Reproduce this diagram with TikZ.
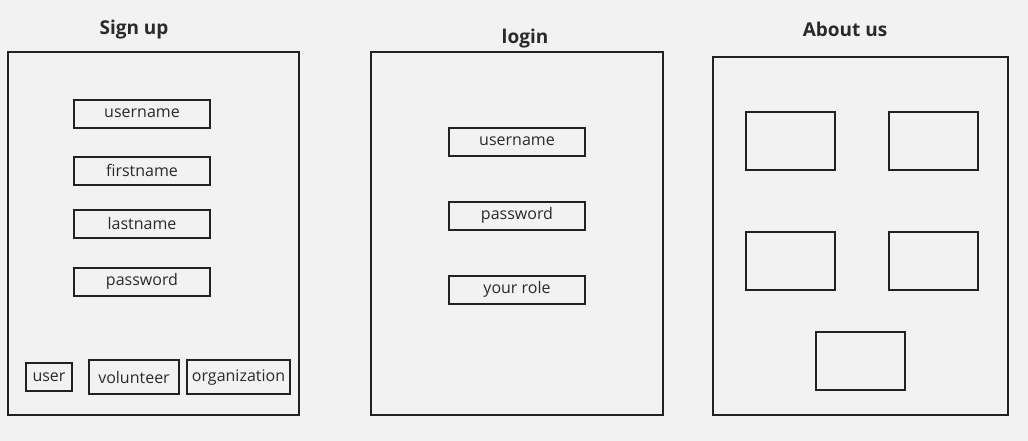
\documentclass[tikz,border=0pt]{standalone}
\usepackage{fontspec}
\setmainfont{Open Sans}
\definecolor{bg}{HTML}{F2F2F2}
\definecolor{ink}{HTML}{222222}
\definecolor{txt}{HTML}{2A2A2A}
\begin{document}
\begin{tikzpicture}[x=1pt,y=-1pt,
  frame/.style={draw=ink,line width=2pt,inner sep=0pt,anchor=north west},
  field/.style={draw=ink,line width=2pt,inner sep=0pt},
  label/.style={text=txt,font=\fontsize{16}{19}\selectfont,inner sep=0pt},
  tile/.style={draw=ink,line width=2pt,inner sep=0pt,minimum width=89pt,minimum height=58pt,anchor=north west},
  title/.style={text=txt,font=\bfseries\fontsize{19}{23}\selectfont,inner sep=0pt}]
\fill[bg] (0,0) rectangle (1028,441);
\useasboundingbox (0,0) rectangle (1028,441);
% titles
\node[title] (t1) at (134,29.5) {Sign up};
\node[title] (t2) at (525,38.5) {login};
\node[title] (t3) at (845,29.5) {About us};
% frames
\node[frame,minimum width=291pt,minimum height=363pt] (f1) at (7,51) {};
\node[frame,minimum width=292pt,minimum height=363pt] (f2) at (370,51) {};
\node[frame,minimum width=295pt,minimum height=358pt] (f3) at (712,56) {};
% sign up fields
\node[field,minimum width=136pt,minimum height=28pt] (su) at (142,114) {};
\node[label] (sul) at (142,113.5) {username};
\node[field,minimum width=136pt,minimum height=28pt] (sf) at (142,171) {};
\node[label] (sfl) at (142,170.5) {firstname};
\node[field,minimum width=136pt,minimum height=28pt] (sl) at (142,224) {};
\node[label] (sll) at (142,223.5) {lastname};
\node[field,minimum width=136pt,minimum height=28pt] (sp) at (142,282) {};
\node[label] (spl) at (142,281.5) {password};
\node[field,minimum width=46pt,minimum height=28pt] (ru) at (49,377) {};
\node[label] (rul) at (49,377.5) {user};
\node[field,minimum width=90pt,minimum height=34pt] (rv) at (134,377) {};
\node[label] (rvl) at (134,377.5) {volunteer};
\node[field,minimum width=103pt,minimum height=34pt] (ro) at (238.5,377) {};
\node[label] (rol) at (238.5,377.5) {organization};
% login fields
\node[field,minimum width=136pt,minimum height=28pt] (lu) at (517,142) {};
\node[label] (lul) at (517,141.5) {username};
\node[field,minimum width=136pt,minimum height=28pt] (lp) at (517,216) {};
\node[label] (lpl) at (517,215.5) {password};
\node[field,minimum width=136pt,minimum height=28pt] (lr) at (517,290) {};
\node[label] (lrl) at (517,289.5) {your role};
% about us tiles
\node[tile] (a1) at (745,111) {};
\node[tile] (a2) at (888,111) {};
\node[tile] (a3) at (745,231) {};
\node[tile] (a4) at (888,231) {};
\node[tile] (a5) at (815,331) {};
\end{tikzpicture}
\end{document}
